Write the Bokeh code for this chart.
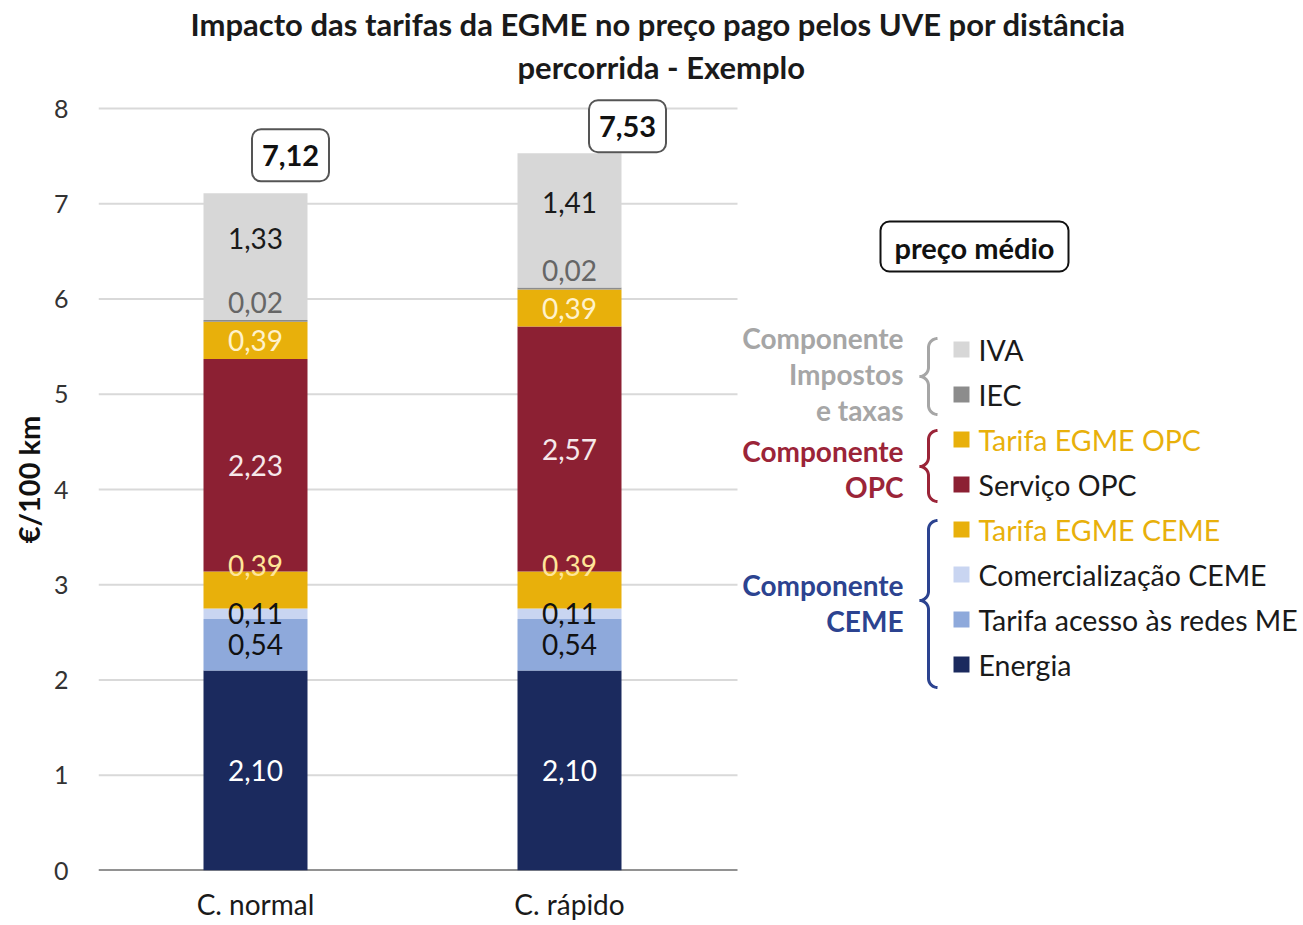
import numpy as np
from bokeh.plotting import figure
from bokeh.models import Range1d, FixedTicker, Title
from bokeh.core.properties import value
from bokeh.embed import file_html
from bokeh.resources import INLINE

# ---------------- data ----------------
categories = ["C. normal", "C. rápido"]
energia = [2.10, 2.10]
tarifa_acesso = [0.54, 0.54]
comercializacao = [0.11, 0.11]
tarifa_egme_ceme = [0.39, 0.39]
servico_opc = [2.23, 2.57]
tarifa_egme_opc = [0.39, 0.39]
iec = [0.02, 0.02]
iva = [1.33, 1.41]
totals = [7.12, 7.53]
y_ticks = [0, 1, 2, 3, 4, 5, 6, 7, 8]
series_names = ["Energia", "Tarifa acesso às redes ME", "Comercialização CEME",
                "Tarifa EGME CEME", "Serviço OPC", "Tarifa EGME OPC", "IEC", "IVA"]
group_labels = [["Componente", "Impostos", "e taxas"], ["Componente", "OPC"], ["Componente", "CEME"]]
title_lines = ["Impacto das tarifas da EGME no preço pago pelos UVE por distância",
               "percorrida - Exemplo"]
y_title = "€/100 km"
box_title = "preço médio"

series = [energia, tarifa_acesso, comercializacao, tarifa_egme_ceme,
          servico_opc, tarifa_egme_opc, iec, iva]

# ---------------- style ----------------
FONT = "Lato"
colors = ["#1B2A5E", "#8EA9DB", "#C9D5F1", "#E8B00B", "#8C2033", "#E8B00B", "#8C8C8C", "#D7D7D7"]
label_colors = ["#FFFFFF", "#111111", "#111111", "#FFE699", "#F6E8EA", "#FFF2CC", "#666666", "#1A1A1A"]
label_dy = [0, 0, 0, -24, 0, 0, -18, -18]
legend_text_colors = ["#1A1A1A", "#1A1A1A", "#1A1A1A", "#E8B00B", "#1A1A1A", "#E8B00B", "#1A1A1A", "#1A1A1A"]
group_colors = ["#A6A6A6", "#9B2438", "#2C4390"]
total_box_dx = [35, 58]
total_box_dy = [-38, -27]

W, H = 1302, 924
X0_PX, UNIT_PX = 98.0, 314.0     # frame left, pixels per category
Y0_PX = 870.0                    # baseline
FRAME_TOP_PX = 88.0
YUNIT_PX = 95.25
Y_END = (Y0_PX - FRAME_TOP_PX) / YUNIT_PX
X_END = (W - X0_PX) / UNIT_PX

def fx(px):
    return (px - X0_PX) / UNIT_PX
def fy(py):
    return (Y0_PX - py) / YUNIT_PX

p = figure(width=W, height=H, output_backend="svg", toolbar_location=None,
           x_range=Range1d(0, X_END), y_range=Range1d(0, Y_END),
           min_border_left=int(X0_PX), min_border_right=0, min_border_top=int(FRAME_TOP_PX),
           min_border_bottom=int(H - Y0_PX))
p.outline_line_color = None
p.xgrid.visible = False
p.ygrid.visible = False

# titles (first added is closest to the frame)
t2 = Title(text=title_lines[1], align="left", offset=419, text_font=FONT,
           text_font_size="31px", text_font_style="bold", text_color="#1A1A1A", standoff=5)
t1 = Title(text=title_lines[0], align="left", offset=92, text_font=FONT,
           text_font_size="31px", text_font_style="bold", text_color="#1A1A1A", standoff=2)
p.add_layout(t2, "above")
p.add_layout(t1, "above")

# y axis
p.yaxis.ticker = FixedTicker(ticks=y_ticks)
p.yaxis.axis_line_color = None
p.yaxis.major_tick_line_color = None
p.yaxis.major_tick_out = 0
p.yaxis.minor_tick_out = 0
p.yaxis.major_label_text_font = FONT
p.yaxis.major_label_text_font_size = "25px"
p.yaxis.major_label_text_color = "#333333"
p.yaxis.major_label_standoff = 30
p.yaxis.axis_label = y_title
p.yaxis.axis_label_text_font = FONT
p.yaxis.axis_label_text_font_size = "29px"
p.yaxis.axis_label_text_font_style = "bold"
p.yaxis.axis_label_text_color = "#111111"
p.yaxis.axis_label_standoff = 5

# x axis with category labels
xc = [i + 0.5 for i in range(len(categories))]
p.xaxis.ticker = FixedTicker(ticks=xc)
p.xaxis.major_label_overrides = {x: c for x, c in zip(xc, categories)}
p.xaxis.axis_line_color = None
p.xaxis.major_tick_line_color = None
p.xaxis.major_tick_out = 0
p.xaxis.minor_tick_out = 0
p.xaxis.major_label_text_font = FONT
p.xaxis.major_label_text_font_size = "28px"
p.xaxis.major_label_text_color = "#1A1A1A"
p.xaxis.major_label_standoff = 16

# gridlines and baseline limited to plot area
plot_right = fx(737)
grid_y = [t for t in y_ticks if t > 0]
p.segment(x0=[0] * len(grid_y), x1=[plot_right] * len(grid_y), y0=grid_y, y1=grid_y,
          line_color="#D9D9D9", line_width=2)
p.segment(x0=[0], x1=[plot_right], y0=[0], y1=[0], line_color="#262626", line_width=2)

# stacked bars
bw = 104 / UNIT_PX
bottom = np.zeros(len(categories))
label_specs = []
for k, vals in enumerate(series):
    v = np.array(vals)
    top = bottom + v
    p.vbar(x=xc, width=bw, bottom=bottom, top=top, fill_color=colors[k], line_color=None)
    label_specs.append((k, list((bottom + top) / 2), [f"{val:.2f}".replace(".", ",") for val in vals]))
    bottom = top

# segment labels drawn after all bars
for k, mids, labels in label_specs:
    p.text(x=xc, y=mids, text=labels, text_align="center", text_baseline="middle",
           text_font=value(FONT), text_font_size="28px", text_color=label_colors[k],
           y_offset=label_dy[k])

# total boxes
bar_tops = bottom
box_w, box_h = 77, 52
for i, tot in enumerate(totals):
    cx_px = X0_PX + xc[i] * UNIT_PX + total_box_dx[i]
    cy_px = Y0_PX - bar_tops[i] * YUNIT_PX + total_box_dy[i]
    p.quad(left=[fx(cx_px - box_w / 2)], right=[fx(cx_px + box_w / 2)],
           top=[fy(cy_px - box_h / 2)], bottom=[fy(cy_px + box_h / 2)],
           fill_color="white", line_color="#555555", line_width=2, border_radius=9)
    p.text(x=[fx(cx_px)], y=[fy(cy_px)], text=[f"{tot:.2f}".replace(".", ",")],
           text_align="center", text_baseline="middle", text_font=value(FONT),
           text_font_size="29px", text_font_style="bold", text_color="#111111")

# "preço médio" box
p.quad(left=[fx(880)], right=[fx(1068)], top=[fy(221)], bottom=[fy(271)],
       fill_color="white", line_color="#111111", line_width=2, border_radius=9)
p.text(x=[fx(974)], y=[fy(247)], text=[box_title], text_align="center", text_baseline="middle",
       text_font=value(FONT), text_font_size="29px", text_font_style="bold", text_color="#111111")

# legend entries (top-down = reverse stacking order)
row0, row_step = 349, 45
order = list(range(len(series_names)))[::-1]
for r, k in enumerate(order):
    ry = row0 + r * row_step
    p.rect(x=[fx(961)], y=[fy(ry)], width=16, height=16, width_units="screen",
           height_units="screen", fill_color=colors[k], line_color=None)
    p.text(x=[fx(978)], y=[fy(ry)], text=[series_names[k]], text_align="left",
           text_baseline="middle", text_font=value(FONT), text_font_size="28.5px",
           text_color=legend_text_colors[k])

# group labels and braces
group_line_y = [[337, 373, 409], [450, 486], [584, 620]]
brace_spans = [(338, 376, 414), (430, 466, 501), (520, 600, 687)]

def brace(xv, top, mid, bot, r):
    pts = []
    def arc(cx, cy, a0, a1):
        for a in np.linspace(np.radians(a0), np.radians(a1), 12):
            pts.append((cx + r * np.cos(a), cy - r * np.sin(a)))
    arc(xv + r, top + r, 90, 180)
    arc(xv - r, mid - r, 0, -90)
    arc(xv - r, mid + r, 90, 0)
    arc(xv + r, bot - r, 180, 270)
    return [fx(a) for a, b in pts], [fy(b) for a, b in pts]

for g, lines in enumerate(group_labels):
    for j, txt in enumerate(lines):
        p.text(x=[fx(903)], y=[fy(group_line_y[g][j])], text=[txt], text_align="right",
               text_baseline="middle", text_font=value(FONT), text_font_size="28px",
               text_font_style="bold", text_color=group_colors[g])
    bx, by = brace(928, *brace_spans[g], 9)
    p.line(bx, by, line_color=group_colors[g], line_width=3)

open("out.html", "w").write(file_html(p, INLINE))
